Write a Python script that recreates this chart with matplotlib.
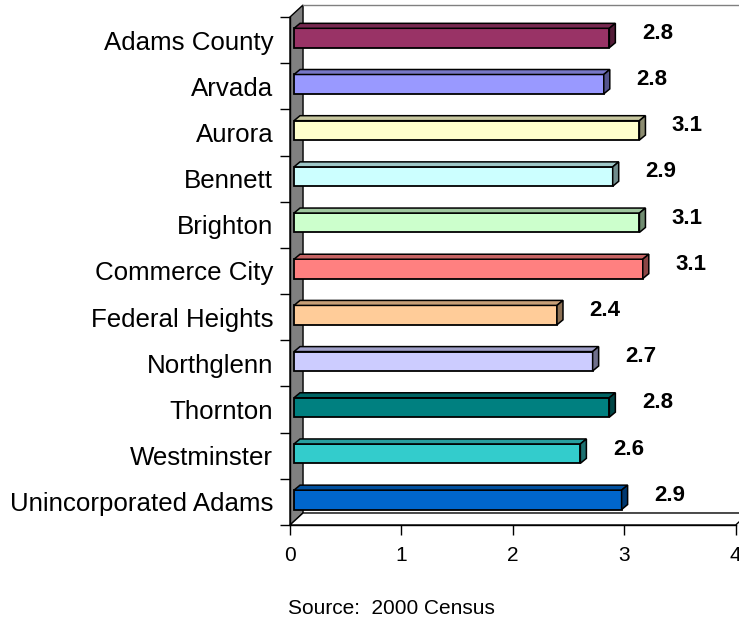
import numpy as np
import matplotlib
matplotlib.use("Agg")
import matplotlib.pyplot as plt
from matplotlib.colors import to_rgb

plt.rcParams['font.family'] = ['Liberation Sans', 'DejaVu Sans']

# Persons per household, 2000 Census
places = ['Adams County', 'Arvada', 'Aurora', 'Bennett', 'Brighton', 'Commerce City',
          'Federal Heights', 'Northglenn', 'Thornton', 'Westminster', 'Unincorporated Adams']
values = [2.83, 2.78, 3.10, 2.86, 3.10, 3.13, 2.36, 2.68, 2.83, 2.57, 2.94]
colors = ['#993366', '#9999FF', '#FFFFCC', '#CCFFFF', '#CCFFCC', '#FF8080',
          '#FFCC99', '#CCCCFF', '#008080', '#33CCCC', '#0066CC']
xticks = [0, 1, 2, 3, 4]

W, H = 739, 622
fig = plt.figure(figsize=(W / 100, H / 100), dpi=100)
ax = fig.add_axes([290 / W, 1 - 525 / H, 445.7 / W, 508 / H])

n = len(places)
ax.set_xlim(0, 4)
ax.set_ylim(n - 0.5, -0.5)

# depth of the "3d" walls and of the bars (data units)
wdx, wdy = 0.117, 0.26
bdx, bdy = 0.054, 0.108
left0 = 0.036
bh = 0.42
shift = 0.045


def shade(c, f):
    return tuple(v * f for v in to_rgb(c))


# left wall and floor
ax.fill([0, 0, wdx, wdx], [n - 0.5, -0.5, -0.5 - wdy, n - 0.5 - wdy],
        facecolor='#808080', edgecolor='black', lw=1.0, zorder=1, clip_on=False)
ax.fill([0, 4, 4 + wdx, wdx], [n - 0.5, n - 0.5, n - 0.5 - wdy, n - 0.5 - wdy],
        facecolor='white', edgecolor='black', lw=1.0, zorder=1, clip_on=False)
ax.plot([wdx, 4 + wdx], [-0.5 - wdy, -0.5 - wdy], color='#808080', lw=1.0,
        zorder=1, clip_on=False)

ys = np.arange(n) - shift
bars = ax.barh(ys, values, height=bh, left=left0, color=colors,
               edgecolor='black', lw=1.3, zorder=3)

for y, v, c in zip(ys, values, colors):
    top = y - bh / 2
    bot = y + bh / 2
    right = left0 + v
    ax.fill([left0, left0 + bdx, right + bdx, right],
            [top, top - bdy, top - bdy, top],
            facecolor=shade(c, 0.78), edgecolor='black', lw=1.1, zorder=3)
    ax.fill([right, right + bdx, right + bdx, right],
            [top, top - bdy, bot - bdy, bot],
            facecolor=shade(c, 0.55), edgecolor='black', lw=1.1, zorder=3)
    ax.text(right + 0.43, y - 0.1, f'{v:.1f}', ha='center', va='center',
            fontsize=16, fontweight='bold', zorder=4)

for s in ['top', 'right']:
    ax.spines[s].set_visible(False)
ax.spines['left'].set_linewidth(1.0)
ax.spines['bottom'].set_linewidth(1.0)
ax.spines['left'].set_zorder(2)

ax.set_yticks(np.arange(n))
ax.set_yticklabels(places, fontsize=18.6)
ax.tick_params(axis='y', which='major', length=0, pad=12)
ax.set_yticks(np.arange(n + 1) - 0.5, minor=True)
ax.tick_params(axis='y', which='minor', length=7.2, width=1.0, direction='out')

ax.set_xticks(xticks)
ax.set_xticklabels([str(t) for t in xticks], fontsize=15)
ax.tick_params(axis='x', length=7.2, width=1.0, direction='out', pad=8)

fig.text(391 / W, 1 - 609 / H, 'Source:  2000 Census', ha='center', va='center', fontsize=15)

fig.savefig('out.png', dpi=100)
